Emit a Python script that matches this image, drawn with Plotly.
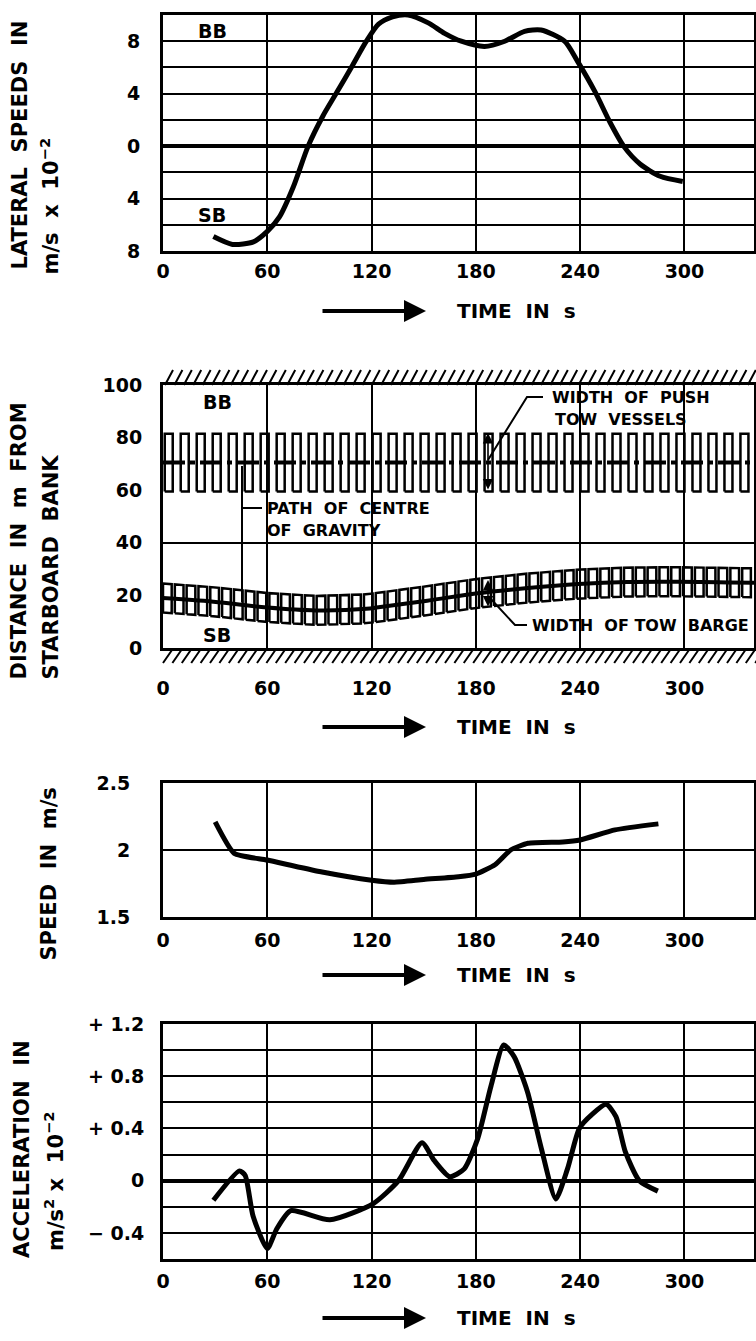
import numpy as np
import plotly.graph_objects as go

W, H = 756, 1341

# --- data ---
time_ticks = [0, 60, 120, 180, 240, 300]

lat_t = [29, 40, 52, 60, 67, 75, 83.5, 92, 100, 109, 117, 124, 132, 141, 152.6, 162, 171.6,
         185, 196.6, 208, 217.5, 231, 238.5, 248.5, 257, 265, 274.6, 286, 299]
lat_v = [-6.9, -7.5, -7.3, -6.5, -5.4, -3.1, 0, 2.3, 4.1, 6.15, 8.0, 9.3, 9.85, 10.0, 9.4, 8.6, 8.0,
         7.6, 8.0, 8.75, 8.85, 8.0, 6.46, 4.15, 1.85, 0, -1.38, -2.3, -2.7]
lat_ticks = [-8, -6, -4, -2, 0, 2, 4, 6, 8, 10]
lat_text = ["8", "", "4", "", "0", "", "4", "", "8", ""]

path_t = [0, 29, 60, 88, 117, 124, 152, 181, 210, 239, 267, 296, 340]
path_v = [19, 17.6, 15.4, 14.3, 14.9, 15.5, 18.0, 20.8, 22.8, 24.3, 25.1, 25.2, 24.8]
barge_half = 5.5
vessel_mid, vessel_half = 70.5, 11
dist_ticks = [0, 20, 40, 60, 80, 100]

speed_t = [30, 41, 60, 90, 120, 133, 150, 170, 180, 191, 200, 210, 230, 240, 260, 285]
speed_v = [2.21, 1.975, 1.925, 1.84, 1.775, 1.76, 1.78, 1.80, 1.82, 1.89, 2.0, 2.05, 2.06, 2.075,
           2.15, 2.195]
speed_ticks = [1.5, 2, 2.5]
speed_text = ["1.5", "2", "2.5"]

acc_t = [29, 44, 47.3, 51.8, 60, 65.4, 73.5, 96, 121, 135.5, 149, 156, 165, 173.3, 181, 188.7,
         196, 202, 209.7, 217.6, 226, 232.7, 239.5, 247, 255, 260.6, 266, 274, 284.7]
acc_v = [-0.15, 0.075, 0.04, -0.27, -0.52, -0.37, -0.23, -0.30, -0.175, 0, 0.29, 0.155, 0.03, 0.09,
         0.32, 0.725, 1.04, 0.95, 0.68, 0.25, -0.14, 0.09, 0.40, 0.51, 0.585, 0.49, 0.22, 0, -0.08]
acc_ticks = [-0.6, -0.4, -0.2, 0, 0.2, 0.4, 0.6, 0.8, 1.0, 1.2]
acc_text = ["", "\u2212 0.4", "", "0", "", "+ 0.4", "", "+ 0.8", "", "+ 1.2"]

FONT = "DejaVu Sans"


def px(x, y):
    return x / W, 1 - y / H


def ydom(top, bottom):
    return [1 - bottom / H, 1 - top / H]


XDOM = [163 / W, 754 / W]

fig = go.Figure()

curve = dict(color="black", width=5, shape="spline", smoothing=0.7)
fig.add_trace(go.Scatter(x=lat_t, y=lat_v, mode="lines", line=curve, xaxis="x", yaxis="y"))

# push tow vessels (upper band) drawn as a row of outlines
vx, vy = [], []
for t0 in np.arange(1, 340, 9.2):
    a, b = t0, t0 + 4.6
    lo, hi = vessel_mid - vessel_half, vessel_mid + vessel_half
    vx += [a, a, b, b, a, None]
    vy += [lo, hi, hi, lo, lo, None]
fig.add_trace(go.Scatter(x=vx, y=vy, mode="lines", line=dict(color="black", width=2.5),
                         xaxis="x2", yaxis="y2"))
fig.add_trace(go.Scatter(x=[0, 340], y=[vessel_mid, vessel_mid], mode="lines",
                         line=dict(color="black", width=4, dash="22px,5px,5px,5px"),
                         xaxis="x2", yaxis="y2"))

# tow barge outlines along its path
bx, by = [], []
for t0 in np.arange(0, 340, 6.8):
    a, b = t0, t0 + 5
    ca, cb = np.interp(a, path_t, path_v), np.interp(b, path_t, path_v)
    bx += [a, a, b, b, a, None]
    by += [ca - barge_half, ca + barge_half, cb + barge_half, cb - barge_half, ca - barge_half, None]
fig.add_trace(go.Scatter(x=bx, y=by, mode="lines", line=dict(color="black", width=2.5),
                         xaxis="x2", yaxis="y2"))
fig.add_trace(go.Scatter(x=path_t, y=path_v, mode="lines",
                         line=dict(color="black", width=4, shape="spline"),
                         xaxis="x2", yaxis="y2"))

fig.add_trace(go.Scatter(x=speed_t, y=speed_v, mode="lines",
                         line=dict(color="black", width=5, shape="spline", smoothing=0.5),
                         xaxis="x3", yaxis="y3"))
fig.add_trace(go.Scatter(x=acc_t, y=acc_v, mode="lines",
                         line=dict(color="black", width=5, shape="spline", smoothing=0.6),
                         xaxis="x4", yaxis="y4"))

tickfont = dict(family=FONT, size=19, color="black", weight="bold")
frame = dict(showline=True, mirror=True, linecolor="black", linewidth=3, showgrid=True,
             gridcolor="black", gridwidth=2, ticks="", tickfont=tickfont, zeroline=False,
             fixedrange=True, automargin=False)

xcommon = dict(frame, domain=XDOM, range=[0, 340], tickvals=time_ticks)
layout = dict(
    width=W, height=H, margin=dict(l=0, r=0, t=0, b=0), showlegend=False,
    paper_bgcolor="white", plot_bgcolor="white", font=dict(family=FONT, color="black"),
    xaxis=dict(xcommon, anchor="y", ticklabelstandoff=1),
    yaxis=dict(frame, domain=ydom(15, 251), range=[-8, 10], tickvals=lat_ticks, ticktext=lat_text,
               zeroline=True, zerolinecolor="black", zerolinewidth=4, ticklabelstandoff=16),
    xaxis2=dict(xcommon, anchor="y2", ticklabelstandoff=21),
    yaxis2=dict(frame, domain=ydom(385, 648), range=[0, 100], tickvals=dist_ticks, showgrid=False,
                minor=dict(tickvals=[40], showgrid=True, gridcolor="black", gridwidth=2),
                ticklabelstandoff=14),
    xaxis3=dict(xcommon, anchor="y3", ticklabelstandoff=4),
    yaxis3=dict(frame, domain=ydom(783, 917), range=[1.5, 2.5], tickvals=speed_ticks,
                ticktext=speed_text, ticklabelstandoff=26),
    xaxis4=dict(xcommon, anchor="y4", ticklabelstandoff=3),
    yaxis4=dict(frame, domain=ydom(1024, 1259), range=[-0.6, 1.2], tickvals=acc_ticks,
                ticktext=acc_text, zeroline=True, zerolinecolor="black", zerolinewidth=4,
                ticklabelstandoff=12),
)
fig.update_layout(**layout)

annotations = []
shapes = []


def text(x, y, s, size=19, xanchor="left", angle=0, yanchor="middle"):
    X, Y = px(x, y)
    annotations.append(dict(x=X, y=Y, xref="paper", yref="paper", text=s, showarrow=False,
                            xanchor=xanchor, yanchor=yanchor, textangle=angle,
                            font=dict(family=FONT, size=size, color="black", weight="bold")))


def seg(points, width=2, color="black"):
    d = ""
    for i, (x, y) in enumerate(points):
        X, Y = px(x, y)
        d += ("M" if i == 0 else "L") + f"{X:.5f},{Y:.5f} "
    shapes.append(dict(type="path", path=d, xref="paper", yref="paper",
                       line=dict(color=color, width=width)))


def time_label(y, tail=321, head=426, tx=455):
    X, Y = px(head, y)
    annotations.append(dict(x=X, y=Y, xref="paper", yref="paper", ax=tail - head, ay=0,
                            showarrow=True, arrowhead=2, arrowsize=1.1, arrowwidth=4,
                            arrowcolor="black", text=""))
    text(tx, y, "TIME&nbsp;&nbsp;IN&nbsp;&nbsp;s", size=20)


def double_arrow(x, y0, y1):
    X, Y1 = px(x, y1)
    annotations.append(dict(x=X, y=Y1, xref="paper", yref="paper", ax=0, ay=y0 - y1,
                            showarrow=True, arrowhead=2, arrowside="end+start",
                            arrowsize=1.3, arrowwidth=1.6, arrowcolor="black", text=""))


# axis titles (rotated)
text(19, 272, "LATERAL&nbsp;&nbsp;SPEEDS&nbsp;&nbsp;IN", size=21, xanchor="center", angle=-90,
     yanchor="bottom")
text(50, 277, "m/s&nbsp;&nbsp;x&nbsp;&nbsp;10<sup>\u22122</sup>", size=21, xanchor="center",
     angle=-90, yanchor="bottom")
text(18, 682, "DISTANCE&nbsp;&nbsp;IN&nbsp;&nbsp;m&nbsp;&nbsp;FROM", size=21, xanchor="center",
     angle=-90, yanchor="bottom")
text(50, 682, "STARBOARD&nbsp;&nbsp;BANK", size=21, xanchor="center", angle=-90,
     yanchor="bottom")
text(48, 963, "SPEED&nbsp;&nbsp;IN&nbsp;&nbsp;m/s", size=21, xanchor="center", angle=-90,
     yanchor="bottom")
text(22, 1260, "ACCELERATION&nbsp;&nbsp;IN", size=21, xanchor="center", angle=-90,
     yanchor="bottom")
text(54, 1253, "m/s<sup>2</sup>&nbsp;x&nbsp;&nbsp;10<sup>\u22122</sup>", size=21, xanchor="center",
     angle=-90, yanchor="bottom")

# BB / SB markers
text(212, 31, "BB", xanchor="center")
text(212, 215, "SB", xanchor="center")
text(217, 402, "BB", xanchor="center")
text(217, 635, "SB", xanchor="center")

time_label(311)
time_label(727)
time_label(975)
time_label(1318)

# panel 2 callouts
text(265, 508, "PATH&nbsp;&nbsp;OF&nbsp;&nbsp;CENTRE", size=16)
text(265, 530, "OF&nbsp;&nbsp;GRAVITY", size=16)
seg([(242, 466), (242, 602)])
seg([(242, 508), (262, 508)])
text(550, 397, "WIDTH&nbsp;&nbsp;OF&nbsp;&nbsp;PUSH", size=16)
text(553, 419, "TOW&nbsp;&nbsp;VESSELS", size=16)
seg([(488, 460), (527, 397), (543, 397)])
double_arrow(488, 491, 433)
text(530, 625, "WIDTH&nbsp;&nbsp;OF&nbsp;TOW&nbsp;&nbsp;BARGE", size=16)
seg([(490, 598), (515, 625), (527, 625)])
double_arrow(488, 608, 580)

# bank hatching above and below the distance panel
hd = ""
for x in np.arange(165, 760, 9.4):
    X0, Y0 = px(x, 385)
    X1, Y1 = px(x + 8, 370)
    hd += f"M{X0:.5f},{Y0:.5f} L{X1:.5f},{Y1:.5f} "
    X0, Y0 = px(x - 2, 663)
    X1, Y1 = px(x + 7, 650)
    hd += f"M{X0:.5f},{Y0:.5f} L{X1:.5f},{Y1:.5f} "
shapes.append(dict(type="path", path=hd, xref="paper", yref="paper",
                   line=dict(color="black", width=2)))

fig.update_layout(annotations=annotations, shapes=shapes)
fig.write_html("out.html", config=dict(displayModeBar=False),
               post_script="document.body.style.margin='0';document.body.style.overflow='hidden';")
